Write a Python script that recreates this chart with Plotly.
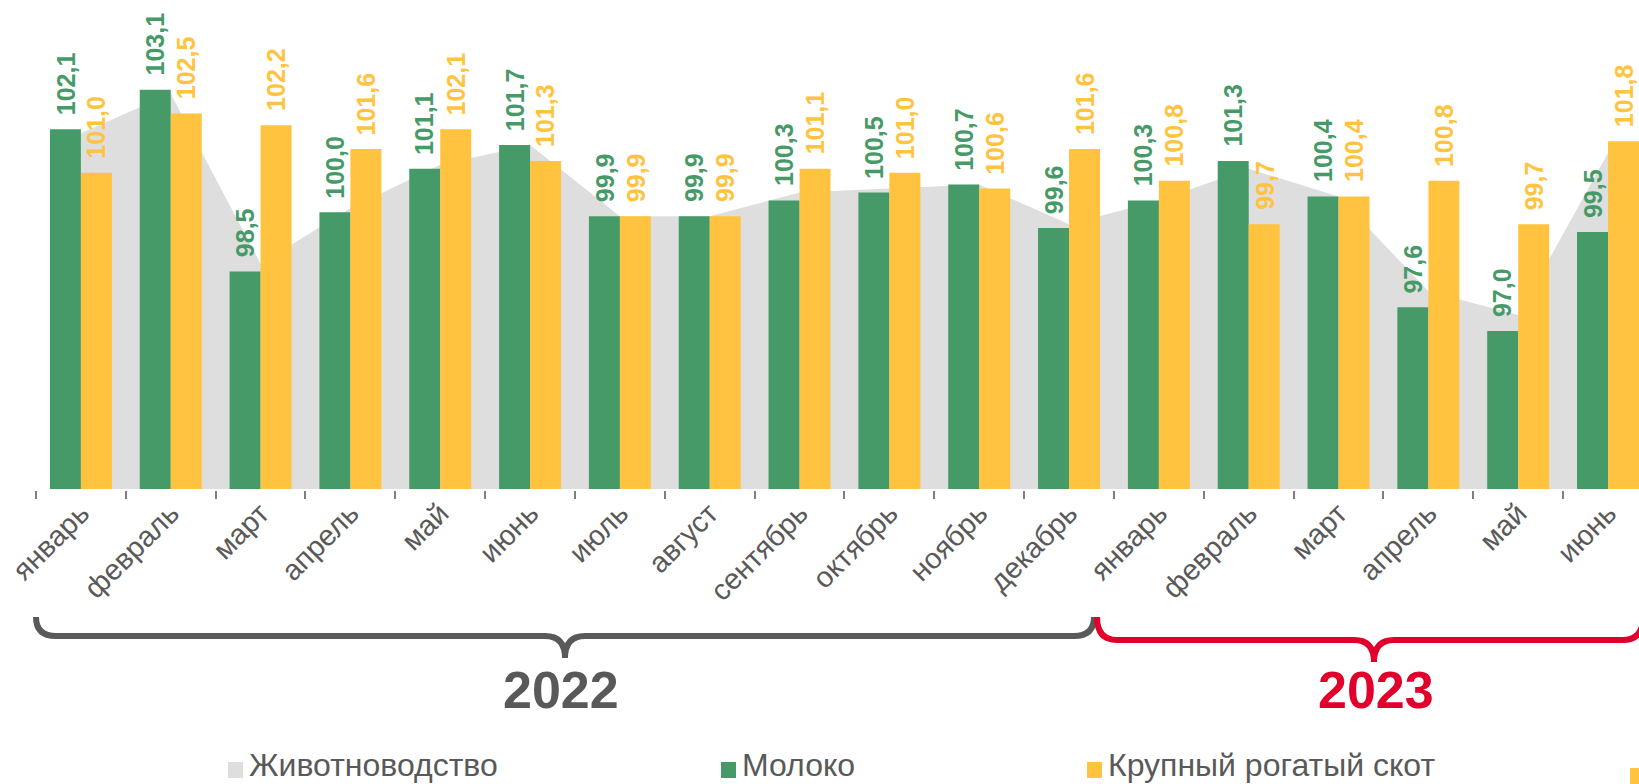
import plotly.graph_objects as go

# ---------------- data ----------------
months = ["январь", "февраль", "март", "апрель", "май", "июнь", "июль", "август",
          "сентябрь", "октябрь", "ноябрь", "декабрь",
          "январь", "февраль", "март", "апрель", "май", "июнь"]
livestock = [102.0, 103.0, 98.7, 100.1, 101.2, 101.7, 99.9, 99.9, 100.5, 100.6, 100.7, 99.7,
             100.3, 101.1, 100.4, 98.0, 97.4, 101.5]
milk = [102.1, 103.1, 98.5, 100.0, 101.1, 101.7, 99.9, 99.9, 100.3, 100.5, 100.7, 99.6,
        100.3, 101.3, 100.4, 97.6, 97.0, 99.5]
cattle = [101.0, 102.5, 102.2, 101.6, 102.1, 101.3, 99.9, 99.9, 101.1, 101.0, 100.6, 101.6,
          100.8, 99.7, 100.4, 100.8, 99.7, 101.8]
series_names = ["Животноводство", "Молоко", "Крупный рогатый скот"]
years = ["2022", "2023"]

# ---------------- style ----------------
W, H = 1639, 784
ML, MR, MT, MB = 36, 0, 0, 295
GREEN = "#469A67"
YELLOW = "#FFC340"
GRAY_AREA = "#DEDEDE"
DARK = "#595959"
RED = "#E1002B"
FONT = "Liberation Sans, Arial, sans-serif"
BARGAP = 0.31

x = list(range(len(months)))
fmt = lambda v: f"{v:.1f}".replace(".", ",")

fig = go.Figure()
fig.add_trace(go.Scatter(x=x, y=livestock, mode="lines", fill="tozeroy",
                         fillcolor=GRAY_AREA, line=dict(width=0, color=GRAY_AREA),
                         name=series_names[0], showlegend=False, hoverinfo="skip",
                         zorder=0))
fig.add_trace(go.Bar(x=x, y=milk, name=series_names[1], marker_color=GREEN,
                     marker_line_width=0, showlegend=False, zorder=1))
fig.add_trace(go.Bar(x=x, y=cattle, name=series_names[2], marker_color=YELLOW,
                     marker_line_width=0, showlegend=False, zorder=1))

# value labels
half = (1 - BARGAP) / 4.0
annotations = []
for i in x:
    for vals, col, off in ((milk, GREEN, -half), (cattle, YELLOW, half)):
        annotations.append(dict(x=i + off, y=vals[i], xref="x", yref="y", text=fmt(vals[i]),
                                textangle=-90, showarrow=False, xanchor="center",
                                yanchor="bottom", yshift=12,
                                font=dict(family=FONT, size=25, color=col, weight="bold")))

PW = W - ML - MR
PH = H - MT - MB


def px(xp):
    return (xp - ML) / PW


def py(yp):
    return (H - MB - yp) / PH


def brace(x0, x1, xc, ytop, yline, ytip, r=20):
    pts = (f"M {px(x0)},{py(ytop)} Q {px(x0)},{py(yline)} {px(x0 + r)},{py(yline)} "
           f"L {px(xc - r)},{py(yline)} Q {px(xc)},{py(yline)} {px(xc)},{py(ytip)} "
           f"Q {px(xc)},{py(yline)} {px(xc + r)},{py(yline)} "
           f"L {px(x1 - r)},{py(yline)} Q {px(x1)},{py(yline)} {px(x1)},{py(ytop)}")
    return pts


shapes = [
    dict(type="path", xref="paper", yref="paper",
         path=brace(36, 1094, 565, 617, 636, 658), line=dict(color=DARK, width=6)),
    dict(type="path", xref="paper", yref="paper",
         path=brace(1097, 1643, 1374, 617, 640, 662), line=dict(color=RED, width=6)),
]

annotations.append(dict(x=px(561), y=py(690), xref="paper", yref="paper", text=years[0],
                        showarrow=False, xanchor="center", yanchor="middle",
                        font=dict(family=FONT, size=52, color=DARK, weight="bold")))
annotations.append(dict(x=px(1376), y=py(690), xref="paper", yref="paper", text=years[1],
                        showarrow=False, xanchor="center", yanchor="middle",
                        font=dict(family=FONT, size=52, color=RED, weight="bold")))

# legend (manual)
legend_items = [(series_names[0], GRAY_AREA, 228), (series_names[1], GREEN, 721),
                (series_names[2], YELLOW, 1087)]
for name, col, lx in legend_items:
    shapes.append(dict(type="rect", xref="paper", yref="paper",
                       x0=px(lx), x1=px(lx + 15), y0=py(778), y1=py(762),
                       fillcolor=col, line=dict(width=0)))
    annotations.append(dict(x=px(lx + 19), y=py(785), xref="paper", yref="paper", text=name,
                            showarrow=False, xanchor="left", yanchor="bottom",
                            font=dict(family=FONT, size=32, color=DARK)))
shapes.append(dict(type="rect", xref="paper", yref="paper",
                   x0=px(1630), x1=px(1646), y0=py(790), y1=py(768),
                   fillcolor=YELLOW, line=dict(width=0)))

fig.update_layout(
    width=W, height=H, margin=dict(l=ML, r=MR, t=MT, b=MB, autoexpand=False),
    paper_bgcolor="white", plot_bgcolor="white",
    barmode="group", bargap=BARGAP, bargroupgap=0,
    showlegend=False,
    xaxis=dict(range=[-0.5, -0.5 + PW / 89.83], tickvals=x, ticktext=months, tickangle=-45,
               tickfont=dict(family=FONT, size=29, color=DARK), ticks="",
               ticklabelstandoff=-6,
               showline=True, linecolor="#7F7F7F", linewidth=1.5, showgrid=False,
               zeroline=False,
               minor=dict(tickmode="linear", tick0=-0.5, dtick=1, ticks="outside",
                          ticklen=8, tickcolor="#7F7F7F", tickwidth=1.5, showgrid=False)),
    yaxis=dict(range=[93, 93 + PH / 39.53], visible=False, showgrid=False),
    shapes=shapes, annotations=annotations,
)

fig.write_html("out.html", config={"displayModeBar": False},
               post_script="document.body.style.margin='0';")
